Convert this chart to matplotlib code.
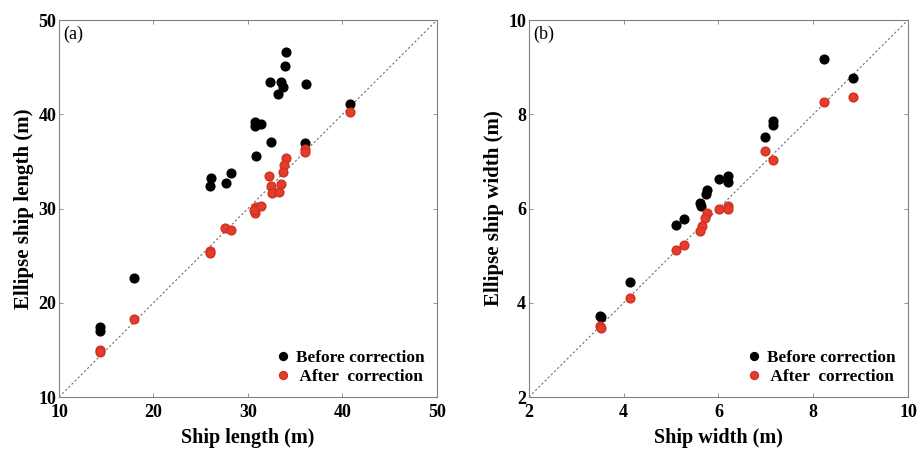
import numpy as np
import matplotlib.pyplot as plt

plt.rcParams['font.family'] = ['Liberation Serif', 'DejaVu Serif']

# (a) ship length, before / after correction
len_before_x = [34.0, 33.9, 32.3, 33.5, 33.7, 33.2, 36.1, 40.8, 30.7, 30.7, 31.4,
                32.4, 36.0, 30.8, 26.1, 26.0, 27.7, 28.2, 17.9, 14.3, 14.3]
len_before_y = [46.6, 45.1, 43.4, 43.4, 42.9, 42.2, 43.2, 41.1, 39.2, 38.8, 39.0,
                37.1, 36.9, 35.6, 33.2, 32.4, 32.7, 33.8, 22.6, 17.4, 17.0]
len_after_x = [40.8, 36.0, 36.0, 34.0, 33.8, 33.7, 32.2, 33.5, 32.4, 32.5, 33.3,
               30.8, 31.4, 30.7, 30.6, 27.6, 28.2, 26.0, 26.0, 17.9, 14.3, 14.3]
len_after_y = [40.2, 36.3, 36.0, 35.4, 34.6, 33.9, 33.5, 32.6, 32.4, 31.6, 31.7,
               30.2, 30.3, 29.5, 29.8, 27.9, 27.7, 25.5, 25.3, 18.3, 15.0, 14.8]

# (b) ship width, before / after correction
wid_before_x = [8.22, 8.85, 7.16, 7.16, 6.99, 6.01, 6.21, 6.21, 5.76, 5.73, 5.62,
                5.64, 5.28, 5.10, 4.14, 3.50, 3.53]
wid_before_y = [9.17, 8.77, 7.85, 7.78, 7.51, 6.62, 6.68, 6.57, 6.40, 6.30, 6.12,
                6.05, 5.77, 5.66, 4.45, 3.72, 3.70]
wid_after_x = [8.22, 8.85, 6.99, 7.16, 6.01, 6.20, 6.20, 5.76, 5.72, 5.66, 5.62,
               5.28, 5.10, 4.14, 3.50, 3.52]
wid_after_y = [8.25, 8.36, 7.23, 7.02, 6.00, 6.05, 5.98, 5.90, 5.80, 5.62, 5.52,
               5.22, 5.13, 4.10, 3.50, 3.47]

RED = '#e43d2e'
fig = plt.figure(figsize=(9.19, 4.53), dpi=100)
ax1 = fig.add_axes([0.0642, 0.1236, 0.4113, 0.8322])
ax2 = fig.add_axes([0.5756, 0.1236, 0.4124, 0.8322])

panels = [
    (ax1, len_before_x, len_before_y, len_after_x, len_after_y, (10, 50),
     [10, 20, 30, 40, 50], 'Ship length (m)', 'Ellipse ship length (m)', '(a)'),
    (ax2, wid_before_x, wid_before_y, wid_after_x, wid_after_y, (2, 10),
     [2, 4, 6, 8, 10], 'Ship width (m)', 'Ellipse ship width (m)', '(b)'),
]

for ax, bx, by, rx, ry, lim, ticks, xl, yl, tag in panels:
    ax.plot(lim, lim, linestyle=(0, (2, 2)), color='#707070', linewidth=0.8, zorder=1)
    ax.plot(bx, by, 'o', color='black', markersize=6.3, label='Before correction', zorder=2)
    ax.plot(rx, ry, 'o', color=RED, markeredgecolor='#d0301f', markersize=6.3,
            label=' After  correction', zorder=3)
    ax.set_xlim(lim)
    ax.set_ylim(lim)
    ax.set_xticks(ticks)
    ax.set_yticks(ticks)
    ax.tick_params(direction='in', length=3, width=0.6, color='#808080',
                   top=True, right=True, labelsize=13)
    ax.tick_params(axis='x', pad=5)
    ax.tick_params(axis='y', pad=2)
    for lab in ax.get_xticklabels() + ax.get_yticklabels():
        lab.set_fontweight('bold')
    for s in ax.spines.values():
        s.set_color('#808080')
        s.set_linewidth(0.8)
    ax.set_xlabel(xl, fontsize=14.5, fontweight='bold', labelpad=5)
    ax.set_ylabel(yl, fontsize=15, fontweight='bold', labelpad=3)
    ax.text(0.01, 0.985, tag, transform=ax.transAxes, fontsize=13, va='top', ha='left')
    leg = ax.legend(loc='lower right', frameon=False, handletextpad=0.3,
                    borderaxespad=0.3, labelspacing=0.15, handlelength=1,
                    markerscale=0.9, prop={'weight': 'bold', 'size': 12.4})

fig.savefig('out.png', dpi=100)
